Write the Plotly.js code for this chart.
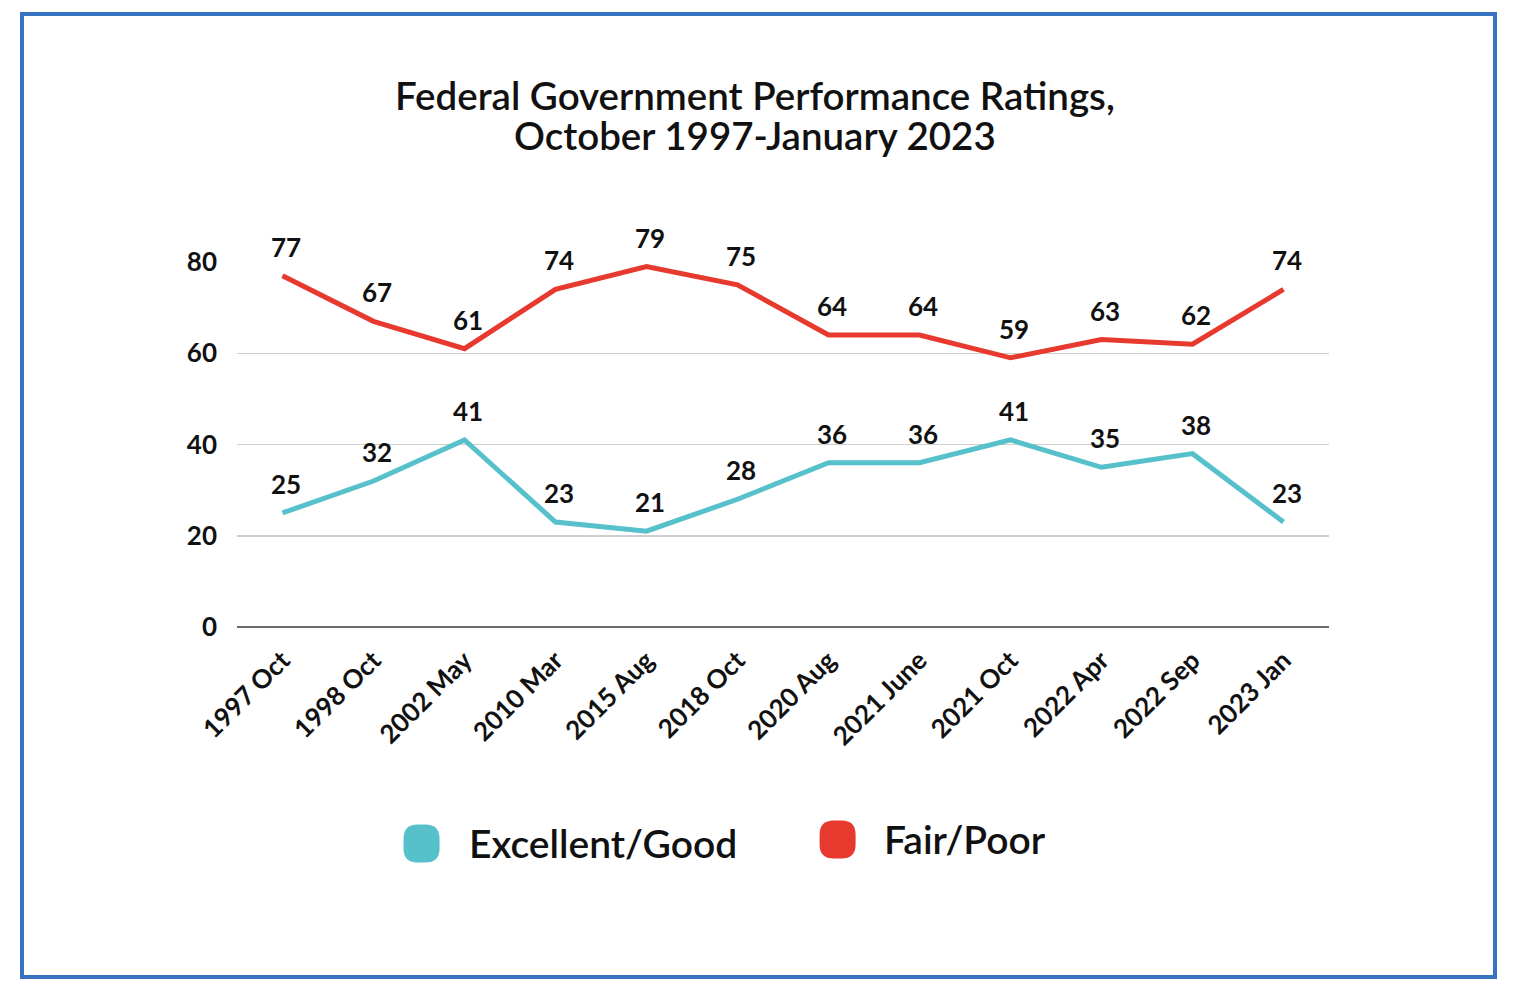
<!DOCTYPE html>
<html>
<head>
<meta charset="utf-8">
<script src="https://cdn.plot.ly/plotly-3.0.1.min.js"></script>
<style>
  html, body { margin: 0; padding: 0; background: #fff; }
  #wrap { position: relative; width: 1516px; height: 1000px; }
  #chart { position: absolute; left: 0; top: 0; width: 1516px; height: 1000px; }
  #frame { position: absolute; left: 20px; top: 12px; width: 1469px; height: 959px;
           border: 4px solid #3773c2; pointer-events: none; }
</style>
</head>
<body>
<div id="wrap">
  <div id="chart"></div>
  <div id="frame"></div>
</div>
<script>
const categories = ["1997 Oct","1998 Oct","2002 May","2010 Mar","2015 Aug","2018 Oct",
                    "2020 Aug","2021 June","2021 Oct","2022 Apr","2022 Sep","2023 Jan"];
const excellentGood = [25,32,41,23,21,28,36,36,41,35,38,23];
const fairPoor = [77,67,61,74,79,75,64,64,59,63,62,74];
const seriesNames = ["Excellent/Good", "Fair/Poor"];
const seriesColors = ["#56c0cb", "#e8392f"];
const yTicks = [0,20,40,60,80];
const titleLines = ["Federal Government Performance Ratings,", "October 1997-January 2023"];

const FONT = "Lato, 'Open Sans', sans-serif";

const traces = [
  { x: categories, y: excellentGood, name: seriesNames[0], mode: "lines",
    line: { color: seriesColors[0], width: 5 }, showlegend: false, cliponaxis: false },
  { x: categories, y: fairPoor, name: seriesNames[1], mode: "lines",
    line: { color: seriesColors[1], width: 5 }, showlegend: false, cliponaxis: false }
];

const annotations = [];
[excellentGood, fairPoor].forEach(arr => {
  arr.forEach((v, i) => {
    annotations.push({ x: categories[i], y: v, xref: "x", yref: "y", text: String(v),
      showarrow: false, yshift: 29, xshift: 3,
      font: { family: FONT, size: 26, color: "#111", weight: "bold" } });
  });
});

// title as two lines (tighter line spacing than Plotly's title)
[1.4575, 1.348].forEach((yy, k) => {
  annotations.push({ xref: "paper", yref: "paper", x: 0.474, y: yy, xanchor: "center", yanchor: "middle",
    text: titleLines[k], showarrow: false,
    font: { family: FONT, size: 38.5, color: "#111", weight: 600 } });
});

// custom legend
const shapes = [];
const legendItems = [
  { px: 0.169, py: -0.593, tx: 0.211 },
  { px: 0.55, py: -0.582, tx: 0.591 }
];
const rr = (w, h, r) => `M ${-w+r} ${-h} L ${w-r} ${-h} Q ${w} ${-h} ${w} ${-h+r} L ${w} ${h-r} Q ${w} ${h} ${w-r} ${h} L ${-w+r} ${h} Q ${-w} ${h} ${-w} ${h-r} L ${-w} ${-h+r} Q ${-w} ${-h} ${-w+r} ${-h} Z`;
legendItems.forEach((it, k) => {
  shapes.push({ type: "path", xref: "paper", yref: "paper", xsizemode: "pixel", ysizemode: "pixel",
    xanchor: it.px, yanchor: it.py, path: rr(18, 19, 14),
    fillcolor: seriesColors[k], line: { width: 0 }, layer: "above" });
  annotations.push({ xref: "paper", yref: "paper", x: it.tx, y: it.py, xanchor: "left", yanchor: "middle",
    text: seriesNames[k], showarrow: false,
    font: { family: FONT, size: 39, color: "#111", weight: 600 } });
});

const layout = {
  width: 1516, height: 1000,
  paper_bgcolor: "#fff", plot_bgcolor: "#fff",
  margin: { l: 237, r: 187, t: 262, b: 373 },
  font: { family: FONT, color: "#111" },
  xaxis: { type: "category", range: [-0.5, 11.5], showgrid: false, zeroline: false,
    showline: false, ticks: "", tickangle: -45, ticklabelstandoff: 12,
    tickfont: { family: FONT, size: 26, color: "#111", weight: "bold" }, fixedrange: true },
  yaxis: { range: [0, 80], tickvals: yTicks, ticktext: yTicks.map(String), showgrid: true,
    gridcolor: "#cfcfcf", gridwidth: 1.5, zeroline: true, zerolinecolor: "#6b6b6b", zerolinewidth: 2,
    showline: false, ticks: "", ticklabelstandoff: 19,
    tickfont: { family: FONT, size: 26, color: "#111", weight: "bold" }, fixedrange: true },
  annotations: annotations,
  shapes: shapes,
  showlegend: false
};

Plotly.newPlot("chart", traces, layout, { displayModeBar: false, staticPlot: true });
</script>
</body>
</html>
